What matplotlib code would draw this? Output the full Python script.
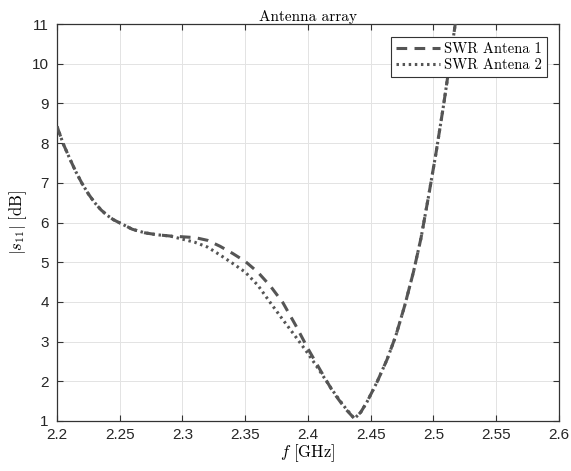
import numpy as np
import matplotlib
matplotlib.use("Agg")
import matplotlib.pyplot as plt

plt.rcParams['mathtext.fontset'] = 'cm'

# Data (frequency in GHz, |s11| in dB)
f_common_start = [2.200, 2.205, 2.210, 2.215, 2.220, 2.225, 2.230, 2.235, 2.240,
                  2.245, 2.250, 2.260, 2.270, 2.280, 2.290]
v_common_start = [8.42, 7.98, 7.62, 7.28, 6.98, 6.72, 6.50, 6.32, 6.18,
                  6.07, 5.99, 5.83, 5.74, 5.69, 5.66]

f_mid = [2.300, 2.310, 2.320, 2.330, 2.340, 2.350, 2.360, 2.370, 2.380,
         2.390, 2.400, 2.410, 2.420, 2.430, 2.437]
v_ant1_mid = [5.64, 5.62, 5.55, 5.40, 5.22, 5.02, 4.75, 4.40, 3.98,
              3.42, 2.82, 2.27, 1.73, 1.30, 1.06]
v_ant2_mid = [5.58, 5.50, 5.38, 5.18, 4.97, 4.75, 4.42, 3.98, 3.55,
              3.13, 2.70, 2.23, 1.75, 1.32, 1.06]

f_common_end = [2.442, 2.447, 2.455, 2.463, 2.470, 2.477, 2.484, 2.490,
                2.496, 2.502, 2.508, 2.514, 2.520]
v_common_end = [1.22, 1.48, 1.98, 2.55, 3.15, 3.90, 4.75, 5.60,
                6.65, 7.75, 8.95, 10.25, 11.60]

f_all = f_common_start + f_mid + f_common_end
ant1 = v_common_start + v_ant1_mid + v_common_end
ant2 = v_common_start + v_ant2_mid + v_common_end

xticks = [2.2, 2.25, 2.3, 2.35, 2.4, 2.45, 2.5, 2.55, 2.6]
xticklabels = ['2.2', '2.25', '2.3', '2.35', '2.4', '2.45', '2.5', '2.55', '2.6']
yticks = list(range(1, 12))

fig = plt.figure(figsize=(5.71, 4.71), dpi=100)
ax = fig.add_axes([57/571, 1 - 421/471, 502/571, 397/471])

col = '#555555'
ax.plot(f_all, ant1, color=col, lw=2.2, linestyle=(0, (3.5, 2.4)),
        dash_capstyle='butt', label='SWR Antena 1', zorder=3)
ax.plot(f_all, ant2, color=col, lw=2.2, linestyle=(0, (0.8, 1.2)),
        dash_capstyle='butt', label='SWR Antena 2', zorder=3)

ax.set_xlim(2.2, 2.6)
ax.set_ylim(1, 11)
ax.set_xticks(xticks)
ax.set_xticklabels(xticklabels)
ax.set_yticks(yticks)

ax.grid(True, color='#e3e3e3', lw=0.7)
ax.set_axisbelow(True)
for s in ax.spines.values():
    s.set_color('#333333')
    s.set_linewidth(0.9)
ax.tick_params(direction='in', length=4, width=0.8, color='#333333',
               top=True, right=True, labelsize=11, labelcolor='#262626')
ax.tick_params(axis='x', pad=5)
ax.tick_params(axis='y', pad=6)
for lbl in ax.get_xticklabels() + ax.get_yticklabels():
    lbl.set_family('Liberation Sans')

ax.set_title('Antenna array', family='cmr10', fontsize=11, pad=2)
ax.set_xlabel(r'$f\ [\mathrm{GHz}]$', fontsize=12, labelpad=0)
ax.set_ylabel(r'$|s_{11}|\ [\mathrm{dB}]$', fontsize=12, labelpad=2)

leg = ax.legend(loc='upper right', bbox_to_anchor=(0.976, 0.967), borderaxespad=0,
                prop={'family': 'cmr10', 'size': 10.5}, fancybox=False,
                framealpha=1, edgecolor='#333333', handlelength=3.0,
                handletextpad=0.3, borderpad=0.35, labelspacing=0.15)
leg.get_frame().set_linewidth(0.8)

fig.savefig('out.png', dpi=100)
